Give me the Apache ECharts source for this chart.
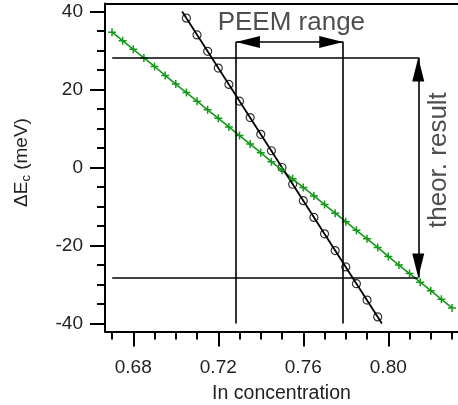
<!DOCTYPE html>
<html>
<head>
<meta charset="utf-8">
<script src="https://cdn.jsdelivr.net/npm/echarts@6/dist/echarts.min.js"></script>
<style>
html,body{margin:0;padding:0;background:#fff;}
#chart{width:458px;height:405px;}
</style>
</head>
<body>
<div id="chart"></div>
<script>
// ---- data ----
const greenX = [0.670,0.675,0.680,0.685,0.690,0.695,0.700,0.705,0.710,0.715,0.720,0.725,0.730,0.735,0.740,0.745,0.750,0.755,0.760,0.765,0.770,0.775,0.780,0.785,0.790,0.795,0.800,0.805,0.810,0.815,0.820,0.825,0.830];
const greenY = [34.7,32.5,30.3,28.1,25.9,23.6,21.4,19.2,17.0,14.8,12.6,10.4,8.2,6.0,3.8,1.5,-0.7,-2.9,-5.1,-7.3,-9.5,-11.7,-13.9,-16.1,-18.3,-20.5,-22.8,-25.0,-27.2,-29.4,-31.6,-33.8,-36.0];
const blackX = [0.705,0.710,0.715,0.720,0.725,0.730,0.735,0.740,0.745,0.750,0.755,0.760,0.765,0.770,0.775,0.780,0.785,0.790,0.795];
const blackY = [38.3,34.0,29.8,25.5,21.3,17.0,12.8,8.5,4.3,0.0,-4.3,-8.5,-12.8,-17.0,-21.3,-25.5,-29.8,-34.0,-38.3];
const fitX = [0.703, 0.797];
const fitY = [40, -40];
// annotations
const peemX = [0.7283, 0.7788];
const peemTopY = 32.2;
const peemBottomY = -40;
const theorY = [28.2, -28.2];
const theorLineX = [0.6701, 0.8141];
const theorArrowX = 0.8141;
const noteTexts = ['PEEM range', 'theor. result'];
const noteX = [0.7544, 0.8239];
const noteY = [37.1, 1.9];
// ticks
const xMajor = [0.68, 0.72, 0.76, 0.80];
const xMinor = [0.67, 0.69, 0.70, 0.71, 0.73, 0.74, 0.75, 0.77, 0.78, 0.79, 0.81, 0.82, 0.83];
const yMajor = [-40, -20, 0, 20, 40];
const yMinor = [-35, -30, -25, -15, -10, -5, 5, 10, 15, 25, 30, 35];
const X_MIN = 0.6667, X_MAX = 0.8328;
const Y_MIN = -42.05, Y_MAX = 42.05;

// ---- chart ----
const FONT = "'Liberation Sans', Arial, sans-serif";
const TXT = '#222';
const GREEN = '#14991a';
const chart = echarts.init(document.getElementById('chart'), null, {renderer: 'canvas'});

const baseX = {type: 'value', min: X_MIN, max: X_MAX, gridIndex: 0, splitLine: {show: false}};
const baseY = {type: 'value', min: Y_MIN, max: Y_MAX, gridIndex: 0, splitLine: {show: false}};

const option = {
  animation: false,
  backgroundColor: '#fff',
  grid: {left: 105, right: 0, top: 3.5, bottom: 405 - 331.5, containLabel: false, outerBoundsMode: 'none'},
  xAxis: [
    Object.assign({}, baseX, {
      position: 'bottom',
      axisLine: {show: true, onZero: false, lineStyle: {color: '#000', width: 2}},
      axisTick: {show: true, customValues: xMajor, length: 15, lineStyle: {color: '#000', width: 2}},
      axisLabel: {show: true, customValues: xMajor, formatter: v => v.toFixed(2), margin: 27, fontSize: 19, color: TXT, fontFamily: FONT},
      name: 'In concentration', nameLocation: 'middle', nameGap: 52,
      nameTextStyle: {fontSize: 19.5, color: TXT, fontFamily: FONT}
    }),
    Object.assign({}, baseX, {
      position: 'bottom',
      axisLine: {show: false, onZero: false},
      axisTick: {show: true, customValues: xMinor, length: 8, lineStyle: {color: '#000', width: 2}},
      axisLabel: {show: false}
    }),
    Object.assign({}, baseX, {
      position: 'top',
      axisLine: {show: true, onZero: false, lineStyle: {color: '#000', width: 2}},
      axisTick: {show: false},
      axisLabel: {show: false}
    })
  ],
  yAxis: [
    Object.assign({}, baseY, {
      position: 'left',
      axisLine: {show: true, onZero: false, lineStyle: {color: '#000', width: 2}},
      axisTick: {show: true, customValues: yMajor, length: 15, lineStyle: {color: '#000', width: 2}},
      axisLabel: {show: true, customValues: yMajor, margin: 22, fontSize: 19, color: TXT, fontFamily: FONT},
      name: '{t|ΔE}{s|c}{t| (meV)}', nameLocation: 'middle', nameGap: 72,
      nameTextStyle: {color: TXT, fontFamily: FONT, padding: [0, 0, 0, 10],
        rich: {t: {fontSize: 19, color: TXT, fontFamily: FONT},
               s: {fontSize: 13, color: TXT, fontFamily: FONT, verticalAlign: 'bottom', padding: [9, 0, 0, 0]}}}
    }),
    Object.assign({}, baseY, {
      position: 'left',
      axisLine: {show: false, onZero: false},
      axisTick: {show: true, customValues: yMinor, length: 8, lineStyle: {color: '#000', width: 2}},
      axisLabel: {show: false}
    })
  ],
  series: [
    {
      name: 'annotation lines', type: 'line', data: [], xAxisIndex: 0, yAxisIndex: 0,
      markLine: {
        silent: true, symbol: ['none', 'none'], label: {show: false},
        lineStyle: {color: '#000', width: 1.6, type: 'solid'},
        data: [
          [{coord: [theorLineX[0], theorY[0]]}, {coord: [theorLineX[1], theorY[0]]}],
          [{coord: [theorLineX[0], theorY[1]]}, {coord: [theorLineX[1], theorY[1]]}],
          [{coord: [peemX[0], peemTopY]}, {coord: [peemX[0], peemBottomY]}],
          [{coord: [peemX[1], peemTopY]}, {coord: [peemX[1], peemBottomY]}]
        ]
      }
    },
    {
      name: 'arrows', type: 'line', data: [], xAxisIndex: 0, yAxisIndex: 0,
      markLine: {
        silent: true, symbol: ['triangle', 'triangle'], symbolSize: [12, 24], symbolOffset: [[0, 12], [0, 12]],
        label: {show: false},
        lineStyle: {color: '#000', width: 1.6, type: 'solid'},
        itemStyle: {color: '#000'},
        data: [
          [{coord: [peemX[0], peemTopY]}, {coord: [peemX[1], peemTopY]}],
          [{coord: [theorArrowX, theorY[0]]}, {coord: [theorArrowX, theorY[1]]}]
        ]
      }
    },
    {
      name: 'theory', type: 'line', xAxisIndex: 0, yAxisIndex: 0,
      data: greenX.map((x, i) => [x, greenY[i]]),
      symbol: 'path://M0,-1L0,1M-1,0L1,0', symbolSize: 8, showAllSymbol: true,
      itemStyle: {color: GREEN, borderColor: GREEN, borderWidth: 1.5},
      lineStyle: {color: GREEN, width: 1.6}
    },
    {
      name: 'fit', type: 'line', xAxisIndex: 0, yAxisIndex: 0,
      data: fitX.map((x, i) => [x, fitY[i]]),
      symbol: 'none', lineStyle: {color: '#000', width: 1.8}
    },
    {
      name: 'PEEM', type: 'scatter', xAxisIndex: 0, yAxisIndex: 0,
      data: blackX.map((x, i) => [x, blackY[i]]),
      symbol: 'circle', symbolSize: 8,
      itemStyle: {color: 'rgba(0,0,0,0)', borderColor: '#000', borderWidth: 1.2}
    },
    {
      name: 'notes', type: 'scatter', xAxisIndex: 0, yAxisIndex: 0, symbolSize: 0, silent: true,
      data: noteTexts.map((t, i) => ({value: [noteX[i], noteY[i]], name: t,
        label: {rotate: i === 1 ? 90 : 0}})),
      label: {show: true, position: 'inside', formatter: p => p.name, fontSize: 26, color: TXT, fontFamily: FONT}
    }
  ]
};
chart.setOption(option);
</script>
</body>
</html>
